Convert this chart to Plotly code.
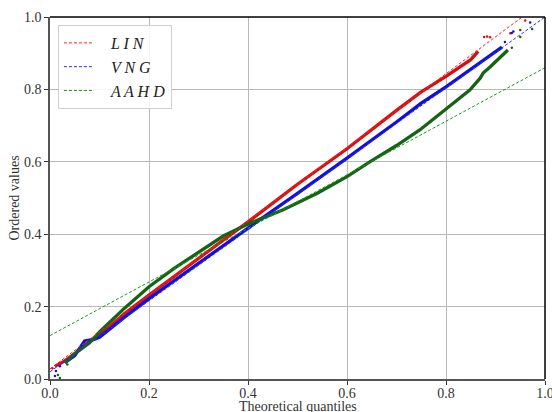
import plotly.graph_objects as go

# ---- data ----
lin_x = [0.01, 0.03, 0.05, 0.07, 0.10, 0.15, 0.20, 0.30, 0.40, 0.50, 0.60, 0.70, 0.75, 0.80, 0.85, 0.865]
lin_y = [0.035, 0.05, 0.07, 0.094, 0.12, 0.18, 0.232, 0.333, 0.434, 0.538, 0.636, 0.742, 0.793, 0.836, 0.882, 0.905]
lin_tail_x = [0.005, 0.02, 0.877, 0.883, 0.889, 0.93, 0.96]
lin_tail_y = [0.03, 0.04, 0.945, 0.946, 0.944, 0.955, 0.99]

vng_x = [0.03, 0.05, 0.07, 0.09, 0.10, 0.15, 0.20, 0.30, 0.40, 0.50, 0.60, 0.70, 0.75, 0.80, 0.85, 0.875, 0.89, 0.913]
vng_y = [0.045, 0.065, 0.105, 0.11, 0.115, 0.17, 0.222, 0.32, 0.417, 0.513, 0.61, 0.71, 0.762, 0.807, 0.855, 0.881, 0.895, 0.917]
vng_tail_x = [0.01, 0.012, 0.02, 0.919, 0.933, 0.936, 0.97]
vng_tail_y = [0.008, 0.022, 0.035, 0.931, 0.956, 0.96, 0.985]

aahd_x = [0.03, 0.05, 0.08, 0.10, 0.15, 0.20, 0.25, 0.30, 0.35, 0.40, 0.47, 0.54, 0.60, 0.646, 0.70, 0.747, 0.798, 0.835, 0.848, 0.869, 0.875, 0.889, 0.903, 0.925]
aahd_y = [0.045, 0.07, 0.10, 0.13, 0.195, 0.255, 0.305, 0.35, 0.395, 0.428, 0.467, 0.513, 0.559, 0.60, 0.645, 0.688, 0.743, 0.784, 0.798, 0.831, 0.845, 0.862, 0.881, 0.909]
aahd_tail_x = [0.016, 0.02, 0.035, 0.933, 0.95, 0.95, 0.974]
aahd_tail_y = [0.011, 0.003, 0.04, 0.915, 0.945, 0.964, 0.967]

fit_names = ["LIN", "VNG", "AAHD"]
fit_intercepts = [0.028, 0.02, 0.12]
fit_slopes = [1.019, 0.98, 0.74]
fit_x = [0.0, 1.0]

tick_vals = [0.0, 0.2, 0.4, 0.6, 0.8, 1.0]
tick_text = ["0.0", "0.2", "0.4", "0.6", "0.8", "1.0"]

scatter_colors = ["#d61010", "#1010d8", "#146414"]
line_colors = ["#ff2020", "#2a2aff", "#1a9a1a"]
series = [(lin_x, lin_y, lin_tail_x, lin_tail_y),
          (vng_x, vng_y, vng_tail_x, vng_tail_y),
          (aahd_x, aahd_y, aahd_tail_x, aahd_tail_y)]

fig = go.Figure()
FONT = "'Liberation Serif', 'DejaVu Serif', serif"

for i, (mx, my, tx, ty) in enumerate(series):
    fig.add_trace(go.Scatter(x=mx, y=my, mode="lines", line=dict(color=scatter_colors[i], width=3.3),
                             showlegend=False, hoverinfo="skip"))
    fig.add_trace(go.Scatter(x=tx, y=ty, mode="markers", marker=dict(color=scatter_colors[i], size=2.5),
                             showlegend=False, hoverinfo="skip"))

for i, name in enumerate(fit_names):
    fy = [fit_intercepts[i] + fit_slopes[i] * v for v in fit_x]
    fig.add_trace(go.Scatter(x=fit_x, y=fy, mode="lines",
                             name="&nbsp;&nbsp;&nbsp;<i>" + " ".join(name) + "</i>",
                             line=dict(color=line_colors[i], width=1, dash="3px,2px")))

axis_common = dict(range=[0, 1], tickvals=tick_vals, ticktext=tick_text, showgrid=True,
                   gridcolor="#b8b8b8", gridwidth=1, zeroline=False, showline=True,
                   linecolor="#555555", linewidth=1.5, ticks="outside", ticklen=4,
                   tickcolor="#333333", automargin=False, ticklabeloverflow="allow",
                   tickfont=dict(family=FONT, size=14, color="#333333"))

fig.update_layout(
    width=552, height=412,
    margin=dict(l=50, r=7, t=17, b=33),
    plot_bgcolor="white", paper_bgcolor="white",
    xaxis=dict(**axis_common, ticklabelstandoff=-4),
    yaxis=dict(**axis_common),
    legend=dict(x=0.016, y=0.978, xanchor="left", yanchor="top", bgcolor="rgba(255,255,255,0.85)",
                bordercolor="#d0d0d0", borderwidth=1,
                font=dict(family=FONT, size=16, color="#222222"), tracegroupgap=0),
    showlegend=True,
)

fig.add_annotation(text="Theoretical quantiles", xref="paper", yref="paper", x=0.5, y=0,
                   yshift=-18, xanchor="center", yanchor="top", showarrow=False,
                   font=dict(family=FONT, size=14, color="#333333"))
fig.add_annotation(text="Ordered values", xref="paper", yref="paper", x=0, y=0.5,
                   xshift=-27, xanchor="right", yanchor="middle", textangle=-90, showarrow=False,
                   font=dict(family=FONT, size=14, color="#333333"))

fig.add_shape(type="line", xref="paper", yref="paper", x0=0, x1=1, y0=1, y1=1,
              line=dict(color="black", width=1.5))
fig.add_shape(type="line", xref="paper", yref="paper", x0=1, x1=1, y0=0, y1=1,
              line=dict(color="black", width=1.5))

fig.write_html("out.html", config={"displayModeBar": False},
               post_script="document.body.style.margin='0';document.body.style.overflow='hidden';")
